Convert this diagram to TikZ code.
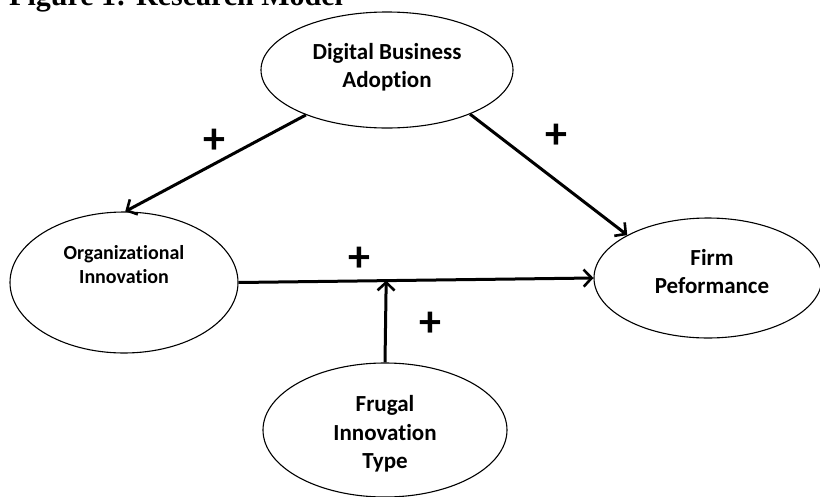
\documentclass[tikz,border=0pt]{standalone}
\usepackage{fontspec}
\setmainfont{Carlito}[Ligatures=NoCommon]
\newfontfamily\titlefont{Liberation Serif}
\usetikzlibrary{arrows.meta,shapes.geometric,calc}
\begin{document}
\begin{tikzpicture}[x=1pt,y=-1pt,
  construct/.style={draw, ellipse, line width=1.1pt, inner sep=0pt},
  lbl/.style={align=center, font=\bfseries\fontsize{23}{28}\selectfont, inner sep=0pt},
  link/.style={line width=3pt, -{Straight Barb[length=8pt,width=17pt,line width=2.6pt]}},
  sign/.style={font=\bfseries\fontsize{44}{44}\selectfont, inner sep=0pt}]
\useasboundingbox (0,0) rectangle (820,496);
% title (partly cut off at the top, as in the reference)
\node[anchor=base west, inner sep=0pt, font=\titlefont\bfseries\fontsize{30}{30}\selectfont] (title) at (9,5) {Figure 1: Research Model};
% constructs
\node[construct, minimum width=252pt, minimum height=116pt] (dba) at (387,70) {};
\node[construct, minimum width=228pt, minimum height=141pt] (oi) at (124,282.5) {};
\node[construct, minimum width=228pt, minimum height=120pt] (fp) at (708,278) {};
\node[construct, minimum width=244pt, minimum height=134pt] (fit) at (385,430) {};
% labels
\node[lbl] (dbat) at (387,67) {Digital Business\\Adoption};
\node[lbl, font=\bfseries\fontsize{20}{24}\selectfont] (oit) at (124,265) {Organizational\\Innovation};
\node[lbl] (fpt) at (712,272) {Firm\\Peformance};
\node[lbl, font=\bfseries\fontsize{23}{28.5}\selectfont] (fitt) at (385,434) {Frugal\\Innovation\\Type};
% connectors
\draw[link] (dba.209) -- (oi.89);
\draw[link] (dba.332) -- (fp.152);
\draw[link] (oi.east) -- (fp.west);
\coordinate (mod) at ($(oi.east)!0.416!(fp.west)$);
\draw[link] (fit.north) -- (mod);
% signs
\node[sign] (p1) at (214,141) {+};
\node[sign] (p2) at (556,136) {+};
\node[sign] (p3) at (359,259) {+};
\node[sign] (p4) at (430,324) {+};
\end{tikzpicture}
\end{document}
